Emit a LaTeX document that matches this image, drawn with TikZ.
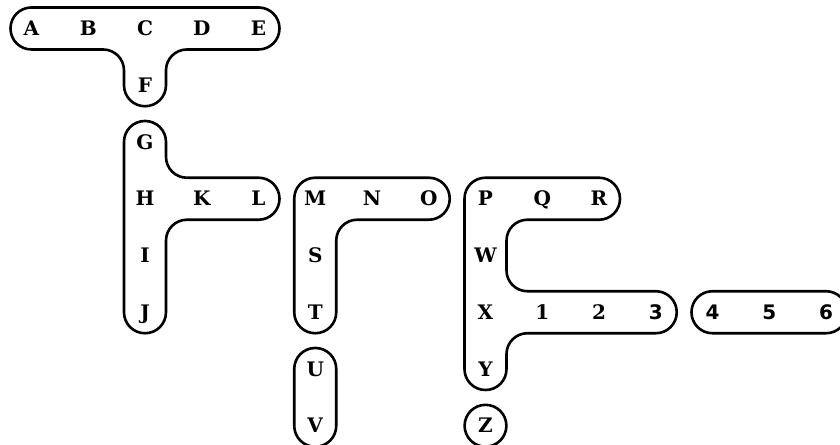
\documentclass[tikz,border=0pt]{standalone}
\usepackage{fontspec}
\newfontfamily\labserif{DejaVu Serif}
\newfontfamily\labsans{DejaVu Sans}
\begin{document}
\begin{tikzpicture}[x=56.75pt,y=-56.75pt,
  outl/.style={draw=black,line width=2.6pt,rounded corners=20.9pt,line join=round},
  lab/.style={inner sep=0pt,text height=14.5pt,text depth=0pt,font=\fontsize{20}{20}\selectfont\labserif\bfseries},
  slab/.style={lab,font=\fontsize{20}{20}\selectfont\labsans\bfseries}]
\def\h{0.37}
\useasboundingbox (-0.555,-0.502) rectangle (14.247,7.339);
% outlines
\draw[outl] (2,-\h) -- (4+\h,-\h) -- (4+\h,\h) -- (2+\h,\h) -- (2+\h,1+\h) -- (2-\h,1+\h) -- (2-\h,\h) -- (-\h,\h) -- (-\h,-\h) -- cycle;
\draw[outl] (2-\h,3.5) -- (2-\h,2-\h) -- (2+\h,2-\h) -- (2+\h,3-\h) -- (4+\h,3-\h) -- (4+\h,3+\h) -- (2+\h,3+\h) -- (2+\h,5+\h) -- (2-\h,5+\h) -- cycle;
\draw[outl] (6,3-\h) -- (7+\h,3-\h) -- (7+\h,3+\h) -- (5+\h,3+\h) -- (5+\h,5+\h) -- (5-\h,5+\h) -- (5-\h,3-\h) -- cycle;
\draw[outl] (5-\h,6.5) -- (5-\h,6-\h) -- (5+\h,6-\h) -- (5+\h,7+\h) -- (5-\h,7+\h) -- cycle;
\draw[outl] (9,3-\h) -- (10+\h,3-\h) -- (10+\h,3+\h) -- (8+\h,3+\h) -- (8+\h,5-\h) -- (11+\h,5-\h) -- (11+\h,5+\h) -- (8+\h,5+\h) -- (8+\h,6+\h) -- (8-\h,6+\h) -- (8-\h,3-\h) -- cycle;
\draw[line width=2.6pt] (8,7) circle[radius=20.9pt];
\draw[outl] (13,5-\h) -- (14+\h,5-\h) -- (14+\h,5+\h) -- (12-\h,5+\h) -- (12-\h,5-\h) -- cycle;
% labels
\node[lab] (A) at (0,0) {A};
\node[lab] (B) at (1,0) {B};
\node[lab] (C) at (2,0) {C};
\node[lab] (D) at (3,0) {D};
\node[lab] (E) at (4,0) {E};
\node[lab] (F) at (2,1) {F};
\node[lab] (G) at (2,2) {G};
\node[lab] (H) at (2,3) {H};
\node[lab] (K) at (3,3) {K};
\node[lab] (L) at (4,3) {L};
\node[lab] (I) at (2,4) {I};
\node[lab] (J) at (2,5) {J};
\node[lab] (M) at (5,3) {M};
\node[lab] (N) at (6,3) {N};
\node[lab] (O) at (7,3) {O};
\node[lab] (S) at (5,4) {S};
\node[lab] (T) at (5,5) {T};
\node[lab] (U) at (5,6) {U};
\node[lab] (V) at (5,7) {V};
\node[lab] (P) at (8,3) {P};
\node[lab] (Q) at (9,3) {Q};
\node[lab] (R) at (10,3) {R};
\node[lab] (W) at (8,4) {W};
\node[lab] (X) at (8,5) {X};
\node[lab] (n1) at (9,5) {1};
\node[lab] (n2) at (10,5) {2};
\node[slab] (n3) at (11,5) {3};
\node[lab] (Y) at (8,6) {Y};
\node[lab] (Z) at (8,7) {Z};
\node[slab] (n4) at (12,5) {4};
\node[slab] (n5) at (13,5) {5};
\node[slab] (n6) at (14,5) {6};
\end{tikzpicture}
\end{document}
